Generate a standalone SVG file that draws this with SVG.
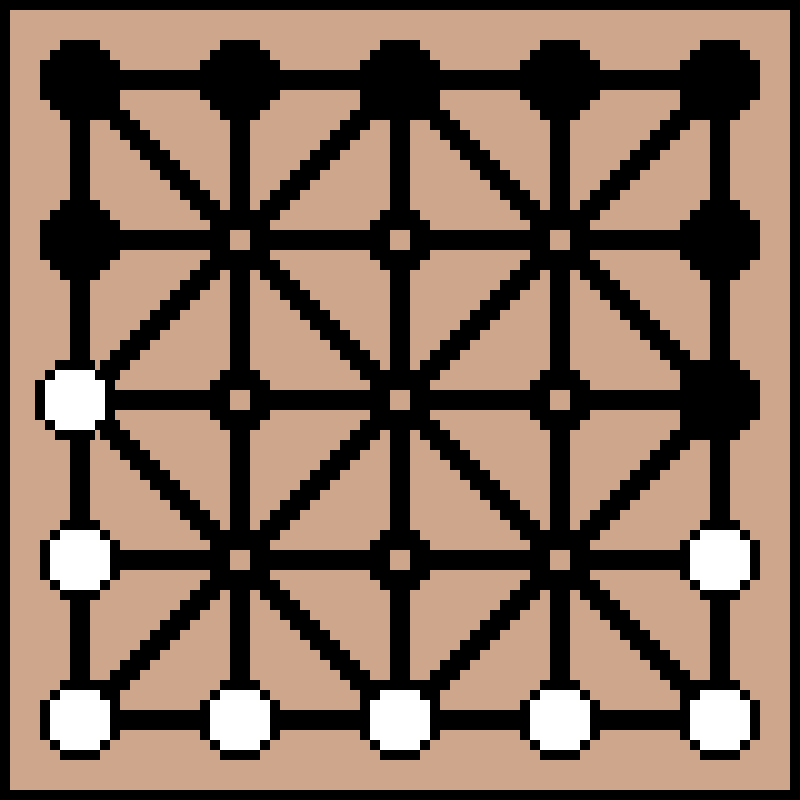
<svg xmlns="http://www.w3.org/2000/svg" width="800" height="800" viewBox="0 0 800 800" shape-rendering="crispEdges">
<style>
.bg{fill:#cda68c}
.ink{fill:#000000}
.hole{fill:#cda68c}
.wht{fill:#ffffff}
</style>
<defs>
<rect id="s1" x="-1" y="0" width="3" height="1"/>
<g id="s2"><use href="#s1"/><use href="#s1" x="1" y="1"/></g>
<g id="s4"><use href="#s2"/><use href="#s2" x="2" y="2"/></g>
<g id="s8"><use href="#s4"/><use href="#s4" x="4" y="4"/></g>
<g id="s16"><use href="#s8"/><use href="#s8" x="8" y="8"/></g>
<g id="s32"><use href="#s16"/><use href="#s16" x="16" y="16"/></g>
<path id="piece" d="M-2 -4H2V-3H3V-2H4V2H3V3H2V4H-2V3H-3V2H-4V-2H-3V-3H-2Z"/>
<path id="inner" d="M-2 -3H2V-2H3V2H2V3H-2V2H-3V-2H-2Z"/>
</defs>
<rect width="800" height="800" class="ink"/>
<rect x="10" y="10" width="780" height="780" class="bg"/>
<g transform="scale(10)">
<g id="connectors" class="ink">
<rect x="8" y="7" width="64" height="2"/>
<rect x="8" y="23" width="64" height="2"/>
<rect x="8" y="39" width="64" height="2"/>
<rect x="8" y="55" width="64" height="2"/>
<rect x="8" y="71" width="64" height="2"/>
<rect x="7" y="8" width="2" height="64"/>
<rect x="23" y="8" width="2" height="64"/>
<rect x="39" y="8" width="2" height="64"/>
<rect x="55" y="8" width="2" height="64"/>
<rect x="71" y="8" width="2" height="64"/>
<use href="#s32" transform="translate(8,8)"/>
<use href="#s32" transform="translate(40,40)"/>
<use href="#s32" transform="translate(40,8)"/>
<use href="#s32" transform="translate(8,40)"/>
<use href="#s32" transform="translate(72,8) scale(-1,1)"/>
<use href="#s32" transform="translate(40,40) scale(-1,1)"/>
<use href="#s32" transform="translate(40,8) scale(-1,1)"/>
<use href="#s32" transform="translate(72,40) scale(-1,1)"/>
</g>
<g id="p-0-0" transform="translate(8,8)"><use href="#piece" class="ink"/></g>
<g id="p-1-0" transform="translate(24,8)"><use href="#piece" class="ink"/></g>
<g id="p-2-0" transform="translate(40,8)"><use href="#piece" class="ink"/></g>
<g id="p-3-0" transform="translate(56,8)"><use href="#piece" class="ink"/></g>
<g id="p-4-0" transform="translate(72,8)"><use href="#piece" class="ink"/></g>
<g id="p-0-1" transform="translate(8,24)"><use href="#piece" class="ink"/></g>
<g id="p-1-1" transform="translate(24,24)"><use href="#inner" class="ink"/><rect x="-1" y="-1" width="2" height="2" class="hole"/></g>
<g id="p-2-1" transform="translate(40,24)"><use href="#inner" class="ink"/><rect x="-1" y="-1" width="2" height="2" class="hole"/></g>
<g id="p-3-1" transform="translate(56,24)"><use href="#inner" class="ink"/><rect x="-1" y="-1" width="2" height="2" class="hole"/></g>
<g id="p-4-1" transform="translate(72,24)"><use href="#piece" class="ink"/></g>
<g id="p-0-2" transform="translate(7.5,40)"><use href="#piece" class="ink"/><use href="#inner" class="wht"/></g>
<g id="p-1-2" transform="translate(24,40)"><use href="#inner" class="ink"/><rect x="-1" y="-1" width="2" height="2" class="hole"/></g>
<g id="p-2-2" transform="translate(40,40)"><use href="#inner" class="ink"/><rect x="-1" y="-1" width="2" height="2" class="hole"/></g>
<g id="p-3-2" transform="translate(56,40)"><use href="#inner" class="ink"/><rect x="-1" y="-1" width="2" height="2" class="hole"/></g>
<g id="p-4-2" transform="translate(72,40)"><use href="#piece" class="ink"/></g>
<g id="p-0-3" transform="translate(8,56)"><use href="#piece" class="ink"/><use href="#inner" class="wht"/></g>
<g id="p-1-3" transform="translate(24,56)"><use href="#inner" class="ink"/><rect x="-1" y="-1" width="2" height="2" class="hole"/></g>
<g id="p-2-3" transform="translate(40,56)"><use href="#inner" class="ink"/><rect x="-1" y="-1" width="2" height="2" class="hole"/></g>
<g id="p-3-3" transform="translate(56,56)"><use href="#inner" class="ink"/><rect x="-1" y="-1" width="2" height="2" class="hole"/></g>
<g id="p-4-3" transform="translate(72,56)"><use href="#piece" class="ink"/><use href="#inner" class="wht"/></g>
<g id="p-0-4" transform="translate(8,72)"><use href="#piece" class="ink"/><use href="#inner" class="wht"/></g>
<g id="p-1-4" transform="translate(24,72)"><use href="#piece" class="ink"/><use href="#inner" class="wht"/></g>
<g id="p-2-4" transform="translate(40,72)"><use href="#piece" class="ink"/><use href="#inner" class="wht"/></g>
<g id="p-3-4" transform="translate(56,72)"><use href="#piece" class="ink"/><use href="#inner" class="wht"/></g>
<g id="p-4-4" transform="translate(72,72)"><use href="#piece" class="ink"/><use href="#inner" class="wht"/></g>
</g>
</svg>
